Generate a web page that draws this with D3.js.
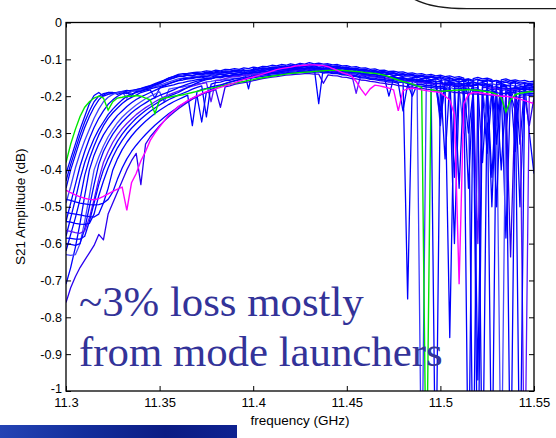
<!DOCTYPE html>
<html><head><meta charset="utf-8">
<script src="https://cdn.jsdelivr.net/npm/d3@7"></script>
<style>body{margin:0;background:#fff}svg{display:block}</style>
</head><body><svg id="c" width="556" height="438"></svg>
<script>
// sampling grid of the network analyser traces (GHz)
const freqs = d3.range(101).map(i => 11.3 + i * 0.0025);

const c01 = [-.41,-.37,-.33,-.29,-.255,-.22,-.198,-.19,-.2,-.195,
-.192,-.19,-.188,-.193,-.186,-.185,-.183,-.178,-.173,-.168,
-.163,-.157,-.151,-.146,-.141,-.139,-.138,-.136,-.135,-.134,
-.131,-.133,-.129,-.131,-.127,-.128,-.125,-.127,-.123,-.125,
-.121,-.123,-.119,-.12,-.116,-.118,-.114,-.116,-.112,-.115,
-.111,-.113,-.109,-.112,-.11,-.113,-.112,-.115,-.114,-.118,
-.117,-.121,-.12,-.124,-.123,-.127,-.126,-.13,-.129,-.133,
-.132,-.135,-.134,-.138,-.137,-.14,-.139,-.143,-.141,-.145,
-.143,-.147,-.145,-.149,-.147,-.151,-1.3,-.152,-.149,-.153,
-.151,-.155,-.28,-.156,-.153,-.158,-.156,-.159,-.157,-.161,
-.159];
const c02 = [-.43,-.385,-.345,-.305,-.27,-.24,-.215,-.2,-.193,-.19,
-.193,-.19,-.187,-.184,-.186,-.182,-.179,-.175,-.171,-.166,
-.161,-.156,-.15,-.147,-.143,-.142,-.14,-.139,-.137,-.138,
-.135,-.136,-.133,-.134,-.131,-.132,-.129,-.13,-.128,-.18,
-.125,-.126,-.123,-.124,-.121,-.122,-.119,-.12,-.117,-.118,
-.115,-.117,-.114,-.116,-.115,-.117,-.116,-.119,-.118,-.122,
-.121,-.125,-.124,-.128,-.127,-.131,-.13,-.134,-.133,-.137,
-.136,-.14,-.139,-.142,-.141,-.145,-.143,-.147,-.145,-.149,
-.147,-.151,-.149,-.42,-.151,-.155,-.153,-.157,-.154,-.158,
-.155,-.159,-.157,-.161,-.158,-.162,-.16,-.164,-.163,-.3,
-.41];
const c03 = [-.45,-.4,-.36,-.32,-.285,-.255,-.23,-.21,-.197,-.19,
-.19,-.195,-.19,-.186,-.184,-.182,-.18,-.176,-.172,-.169,
-.165,-.16,-.155,-.151,-.147,-.146,-.143,-.144,-.141,-.142,
-.139,-.14,-.137,-.138,-.135,-.136,-.133,-.134,-.131,-.132,
-.129,-.13,-.127,-.127,-.124,-.125,-.122,-.123,-.12,-.121,
-.118,-.12,-.117,-.119,-.22,-.12,-.119,-.122,-.121,-.125,
-.124,-.128,-.127,-.131,-.13,-.134,-.133,-.137,-.136,-.14,
-.139,-.143,-.142,-.146,-.144,-.148,-.146,-.15,-.148,-.152,
-.15,-.154,-.152,-.156,-.154,-.158,-.156,-.16,-1.3,-.161,
-.159,-.5,-.161,-.165,-.162,-.166,-.164,-.168,-.165,-.169,
-.167];
const c04 = [-.49,-.445,-.395,-.355,-.32,-.29,-.26,-.235,-.215,-.203,
-.195,-.19,-.188,-.205,-.187,-.185,-.183,-.18,-.177,-.174,
-.17,-.166,-.161,-.157,-.153,-.151,-.149,-.147,-.146,-.144,
-.143,-.141,-.142,-.139,-.14,-.137,-.138,-.135,-.136,-.133,
-.134,-.131,-.131,-.128,-.129,-.126,-.127,-.124,-.125,-.122,
-.123,-.12,-.122,-.119,-.122,-.12,-.123,-.122,-.126,-.125,
-.129,-.128,-.132,-.131,-.135,-.134,-.138,-.137,-.141,-.14,
-.144,-.143,-.147,-.146,-.15,-.149,-1.3,-.152,-.156,-.154,
-.28,-.156,-.16,-.158,-.162,-.2,-.164,-.162,-.166,-.164,
-.168,-.166,-.17,-.168,-.171,-.169,-.173,-.171,-.174,-.172,
-.175];
const c05 = [-.54,-.49,-.44,-.39,-.35,-.315,-.285,-.26,-.24,-.222,
-.21,-.2,-.193,-.19,-.198,-.187,-.186,-.183,-.18,-.177,
-.174,-.17,-.166,-.162,-.158,-.156,-.153,-.152,-.149,-.15,
-.147,-.148,-.145,-.146,-.143,-.144,-.141,-.142,-.139,-.14,
-.137,-.137,-.134,-.135,-.132,-.132,-.129,-.13,-.127,-.128,
-.125,-.126,-.123,-.125,-.124,-.127,-.126,-.129,-.128,-.132,
-.131,-.135,-.134,-.138,-.138,-.142,-.141,-.145,-.145,-.149,
-.148,-.152,-.151,-.155,-.154,-.158,-.156,-.16,-.159,-1.3,
-.162,-.166,-.164,-.168,-.166,-.17,-.168,-.172,-.17,-.38,
-.172,-.176,-.174,-.178,-.585,-.179,-.177,-.181,-.178,-.182,
-.18];
const c06 = [-.58,-.53,-.48,-.425,-.38,-.345,-.315,-.29,-.27,-.25,
-.235,-.222,-.21,-.2,-.194,-.19,-.186,-.181,-.176,-.171,
-.166,-.16,-.154,-.15,-.145,-.146,-.143,-.144,-.141,-.14,
-.138,-.139,-.136,-.137,-.134,-.134,-.131,-.132,-.129,-.13,
-.127,-.127,-.124,-.125,-.122,-.122,-.119,-.12,-.118,-.119,
-.116,-.117,-.114,-.116,-.115,-.118,-.117,-.12,-.119,-.123,
-.122,-.126,-.125,-.129,-.128,-.132,-.131,-.135,-.134,-.138,
-.137,-.141,-.14,-.143,-.142,-.146,-.144,-.148,-.146,-.15,
-.148,-.19,-.15,-.154,-.152,-.156,-.154,-1.3,-.156,-.16,
-.157,-.161,-.158,-.162,-.3,-.164,-.161,-.33,-.163,-.166,
-.164];
const c07 = [-.62,-.575,-.53,-.48,-.415,-.37,-.335,-.305,-.28,-.26,
-.245,-.232,-.22,-.21,-.203,-.197,-.19,-.186,-.183,-.205,
-.178,-.175,-.172,-.169,-.165,-.163,-.16,-.158,-.155,-.154,
-.151,-.152,-.149,-.15,-.147,-.147,-.145,-.145,-.143,-.143,
-.141,-.141,-.138,-.139,-.136,-.136,-.133,-.134,-.131,-.131,
-.129,-.13,-.127,-.129,-.128,-.131,-.13,-.133,-.133,-.137,
-.136,-.14,-.14,-.144,-.143,-.147,-.147,-.151,-.151,-.154,
-.154,-.158,-.157,-.161,-.16,-.164,-.163,-.166,-.166,-.17,
-.26,-.171,-.17,-.174,-.173,-.177,-.45,-.178,-.177,-1.3,
-.179,-.182,-.18,-.184,-.182,-.186,-.184,-.188,-.185,-.189,
-.187];
const c08 = [-.71,-.665,-.61,-.545,-.47,-.4,-.36,-.33,-.305,-.285,
-.268,-.252,-.24,-.228,-.218,-.209,-.202,-.196,-.19,-.184,
-.178,-.172,-.166,-.161,-.157,-.152,-.152,-.149,-.149,-.146,
-.146,-.143,-.143,-.14,-.141,-.138,-.139,-.136,-.137,-.134,
-.134,-.131,-.131,-.128,-.128,-.125,-.126,-.123,-.124,-.121,
-.122,-.119,-.121,-.118,-.121,-.12,-.122,-.122,-.125,-.125,
-.128,-.127,-.131,-.13,-.134,-.134,-.137,-.137,-.141,-.14,
-.144,-.143,-.147,-.75,-.149,-.148,-.152,-.151,-.155,-.153,
-.157,-.155,-.159,-.157,-.161,-.159,-.163,-.161,-.165,-.163,
-.167,-1.3,-.168,-.166,-.17,-.21,-.171,-.5,-.172,-.17,
-.173];
const c09 = [-.63,-.632,-.63,-.6,-.54,-.47,-.4,-.365,-.335,-.31,
-.29,-.272,-.257,-.245,-.234,-.224,-.215,-.207,-.2,-.194,
-.188,-.215,-.181,-.178,-.176,-.175,-.172,-.17,-.166,-.165,
-.161,-.16,-.157,-.157,-.154,-.154,-.151,-.151,-.148,-.148,
-.145,-.145,-.142,-.143,-.139,-.14,-.137,-.138,-.134,-.135,
-.132,-.133,-.131,-.133,-.132,-.135,-.134,-.137,-.137,-.141,
-.14,-.144,-.145,-.149,-.148,-.152,-.152,-.156,-.156,-.159,
-.159,-.163,-.162,-.166,-.166,-.17,-.168,-.172,-.171,-.175,
-.174,-.177,-.176,-.18,-.178,-.3,-.18,-.184,-.182,-.186,
-.27,-.188,-.186,-1.3,-.188,-.192,-.19,-.194,-.191,-.195,
-.193];
const c10 = [-.6,-.602,-.605,-.6,-.56,-.5,-.44,-.385,-.35,-.325,
-.303,-.285,-.27,-.257,-.245,-.235,-.226,-.218,-.21,-.204,
-.198,-.193,-.188,-.183,-.177,-.172,-.167,-.163,-.159,-.157,
-.153,-.152,-.148,-.148,-.145,-.145,-.142,-.142,-.139,-.139,
-.136,-.136,-.133,-.134,-.13,-.131,-.128,-.129,-.126,-.127,
-.124,-.125,-.122,-.124,-.123,-.126,-.125,-.128,-.128,-.131,
-.131,-.135,-.134,-.138,-.138,-.142,-.141,-.145,-.144,-.148,
-.147,-.151,-.15,-.154,-.153,-.156,-.156,-.159,-.158,-.161,
-.16,-.37,-.162,-.165,-.164,-.167,-.2,-.169,-.168,-.171,
-.169,-.172,-.33,-.174,-.173,-1.3,-.175,-.178,-.176,-.179,
-.177];
const c11 = [-.565,-.567,-.57,-.572,-.565,-.53,-.48,-.425,-.38,-.35,
-.325,-.305,-.288,-.274,-.262,-.25,-.24,-.231,-.223,-.215,
-.208,-.202,-.196,-.191,-.186,-.181,-.177,-.173,-.169,-.166,
-.163,-.215,-.157,-.156,-.152,-.149,-.147,-.146,-.143,-.143,
-.14,-.14,-.137,-.137,-.134,-.134,-.132,-.132,-.129,-.13,
-.127,-.128,-.126,-.128,-.127,-.13,-.129,-.132,-.131,-.135,
-.135,-.139,-.192,-.142,-.142,-.146,-.146,-.15,-.149,-.153,
-.153,-.157,-.155,-.159,-.158,-.162,-.161,-.164,-.164,-.167,
-.166,-.169,-.168,-.171,-.17,-.173,-.172,-.175,-.6,-.177,
-.176,-.179,-.178,-.181,-.179,-.183,-.181,-.185,-1.3,-.186,
-.184];
const c12 = [-.54,-.542,-.545,-.547,-.548,-.545,-.52,-.47,-.43,-.395,
-.365,-.34,-.32,-.302,-.287,-.274,-.262,-.251,-.241,-.232,
-.224,-.216,-.209,-.203,-.197,-.192,-.187,-.181,-.176,-.172,
-.256,-.167,-.163,-.162,-.158,-.157,-.153,-.152,-.148,-.148,
-.145,-.145,-.141,-.142,-.138,-.139,-.136,-.137,-.134,-.135,
-.131,-.133,-.13,-.132,-.131,-.134,-.133,-.137,-.136,-.14,
-.14,-.144,-.144,-.148,-.147,-.151,-.151,-.155,-.155,-.158,
-.158,-.162,-.161,-.165,-.2,-.168,-.168,-.171,-.171,-.174,
-.173,-.176,-.855,-.178,-.178,-.181,-.18,-.183,-.182,-.185,
-.184,-.187,-.186,-.4,-.188,-.191,-.189,-1.3,-.19,-.193,
-.192];
const c13 = [-.515,-.518,-.52,-.522,-.525,-.527,-.528,-.52,-.49,-.45,
-.4,-.37,-.345,-.325,-.308,-.293,-.28,-.268,-.257,-.247,
-.238,-.23,-.222,-.215,-.209,-.203,-.197,-.28,-.187,-.182,
-.179,-.175,-.172,-.169,-.166,-.162,-.159,-.156,-.154,-.152,
-.15,-.148,-.146,-.145,-.143,-.142,-.14,-.139,-.137,-.137,
-.135,-.135,-.134,-.135,-.134,-.137,-.136,-.139,-.139,-.142,
-.143,-.146,-.147,-.15,-.151,-.154,-.155,-.158,-.159,-.162,
-.162,-.165,-.24,-.168,-.169,-.172,-.173,-.175,-.176,-.178,
-.178,-.181,-.18,-.6,-.183,-.186,-.3,-.188,-.187,-.19,
-.355,-.191,-.19,-.193,-.192,-.195,-.24,-.197,-.196,-.198,
-.197];
const c14 = [-.48,-.483,-.487,-.49,-.492,-.494,-.495,-.494,-.49,-.48,
-.46,-.425,-.395,-.37,-.35,-.333,-.318,-.304,-.291,-.279,
-.268,-.257,-.247,-.238,-.229,-.221,-.213,-.206,-.199,-.27,
-.188,-.182,-.176,-.171,-.166,-.162,-.158,-.155,-.152,-.149,
-.146,-.144,-.141,-.139,-.137,-.135,-.133,-.131,-.129,-.128,
-.126,-.127,-.125,-.127,-.126,-.129,-.128,-.131,-.13,-.134,
-.134,-.137,-.137,-.14,-.141,-.144,-.145,-.148,-.148,-.2,
-.151,-.154,-.155,-.157,-.157,-.16,-.16,-.162,-.163,-.165,
-.165,-.168,-.167,-.17,-.169,-.172,-.171,-.173,-.97,-.175,
-.175,-.42,-.176,-.178,-.178,-.18,-.179,-.182,-.181,-.183,
-.182];
const c15 = [-.76,-.72,-.69,-.665,-.645,-.625,-.605,-.575,-.59,-.52,
-.49,-.46,-.43,-.4,-.375,-.355,-.44,-.33,-.31,-.295,
-.28,-.267,-.255,-.244,-.234,-.225,-.216,-.208,-.201,-.195,
-.19,-.186,-.182,-.23,-.175,-.172,-.168,-.165,-.163,-.161,
-.158,-.155,-.152,-.15,-.148,-.147,-.145,-.143,-.142,-.141,
-.14,-.139,-.139,-.14,-.14,-.165,-.142,-.144,-.145,-.148,
-.149,-.152,-.153,-.156,-.157,-.16,-.161,-.164,-.165,-.168,
-.168,-.171,-.172,-.175,-.175,-.178,-.179,-.181,-.182,-.184,
-.185,-.187,-.187,-.19,-.19,-.192,-.192,-.194,-.194,-.196,
-.196,-.198,-.198,-.2,-.2,-.636,-.201,-.203,-.202,-.28,
-.203];
const c16 = [-.585,-.586,-.588,-.588,-.58,-.54,-.49,-.44,-.4,-.37,
-.345,-.322,-.303,-.287,-.273,-.26,-.249,-.239,-.23,-.222,
-.214,-.207,-.2,-.195,-.19,-.183,-.176,-.17,-.164,-.159,
-.155,-.153,-.149,-.148,-.145,-.144,-.141,-.141,-.138,-.137,
-.135,-.135,-.132,-.132,-.129,-.129,-.127,-.127,-.125,-.125,
-.123,-.124,-.122,-.123,-.123,-.125,-.124,-.127,-.127,-.13,
-.131,-.133,-.134,-.137,-.138,-.14,-.141,-.144,-.144,-.147,
-.147,-.15,-.15,-.153,-.153,-.155,-.155,-.158,-.158,-.16,
-.24,-.162,-.162,-.164,-.45,-.165,-.165,-.167,-.167,-.169,
-.168,-.17,-.5,-.172,-.171,-.173,-.35,-.174,-.174,-.176,
-.175];
const greenTrace = [-.38,-.33,-.29,-.255,-.23,-.215,-.205,-.2,-.205,-.238,
-.215,-.205,-.203,-.2,-.2,-.198,-.2,-.205,-.21,-.247,
-.21,-.205,-.203,-.2,-.198,-.196,-.193,-.19,-.187,-.184,
-.18,-.178,-.176,-.173,-.17,-.167,-.165,-.162,-.16,-.157,
-.155,-.152,-.15,-.148,-.146,-.144,-.142,-.14,-.138,-.137,
-.136,-.135,-.134,-.133,-.132,-.131,-.13,-.13,-.129,-.13,
-.131,-.132,-.133,-.134,-.136,-.137,-.138,-.14,-.143,-.147,
-.152,-.156,-.16,-.163,-.167,-.172,-.176,-1.3,-.182,-.185,
-.187,-.186,-.185,-.184,-.183,-.183,-.182,-.183,-.184,-.186,
-.188,-.19,-.195,-.205,-.243,-.21,-.196,-.192,-.19,-.188,
-.187];
const magentaTrace = [-.455,-.462,-.468,-.473,-.477,-.48,-.481,-.478,-.472,-.465,
-.458,-.452,-.447,-.51,-.435,-.41,-.375,-.35,-.32,-.3,
-.283,-.267,-.25,-.24,-.228,-.22,-.212,-.205,-.199,-.193,
-.188,-.184,-.18,-.176,-.172,-.168,-.164,-.159,-.155,-.151,
-.148,-.144,-.14,-.136,-.132,-.128,-.125,-.123,-.121,-.118,
-.117,-.116,-.115,-.115,-.116,-.117,-.12,-.125,-.13,-.136,
-.14,-.145,-.16,-.18,-.197,-.18,-.17,-.172,-.175,-.178,
-.183,-.24,-.185,-.18,-.178,-.18,-.183,-.185,-.187,-.188,
-.19,-.2,-.21,-.25,-.71,-.22,-.195,-.19,-.19,-.192,
-.194,-.196,-.198,-.2,-.2,-.202,-.205,-.208,-.212,-.216,
-.22];

const blueTraces = [c01,c02,c03,c04,c05,c06,c07,c08,c09,c10,c11,c12,c13,c14,c15,c16];
const blueColors = ["#0000ff","#0000ff","#0000ff","#3a3aff","#0000ff","#0000ff","#0000ff","#0000ff",
                    "#4848ff","#0000ff","#5a14ff","#0000ff","#0000ff","#0000ff","#2a00f0","#0000ff"];

const xTicks = [11.3, 11.35, 11.4, 11.45, 11.5, 11.55];
const xTickLabels = ["11.3","11.35","11.4","11.45","11.5","11.55"];
const yTicks = [0,-0.1,-0.2,-0.3,-0.4,-0.5,-0.6,-0.7,-0.8,-0.9,-1];
const yTickLabels = ["0","-0.1","-0.2","-0.3","-0.4","-0.5","-0.6","-0.7","-0.8","-0.9","-1"];
const xTitle = "frequency (GHz)";
const yTitle = "S21 Amplitude (dB)";
const noteLines = ["~3% loss mostly", "from mode launchers"];

const svg = d3.select("#c");
const L = 66, R = 534, T = 22.5, B = 391;
const x = d3.scaleLinear().domain([11.3, 11.55]).range([L, R]);
const y = d3.scaleLinear().domain([-1, 0]).range([B, T]);

// callout bubble edge (top right)
svg.append("path").attr("d", "M414,-1 Q432,9 470,8.6 L557,8.6")
  .attr("fill", "none").attr("stroke", "#1a1a1a").attr("stroke-width", 1.4);

// decorative slide bar bottom-left
const defs = svg.append("defs");
const g1 = defs.append("linearGradient").attr("id", "bar");
g1.append("stop").attr("offset", "0").attr("stop-color", "#2444b4");
g1.append("stop").attr("offset", "0.35").attr("stop-color", "#132e9c");
g1.append("stop").attr("offset", "0.7").attr("stop-color", "#0b1c84");
g1.append("stop").attr("offset", "1").attr("stop-color", "#0e2290");
svg.append("rect").attr("x", 0).attr("y", 425).attr("width", 237).attr("height", 13).attr("fill", "url(#bar)");

defs.append("clipPath").attr("id", "plot").append("rect")
  .attr("x", L).attr("y", T).attr("width", R - L).attr("height", B - T);

const line = d3.line().x((d, i) => x(freqs[i])).y(d => y(d));
const plot = svg.append("g").attr("clip-path", "url(#plot)");
blueTraces.forEach((s, k) => {
  plot.append("path").attr("d", line(s)).attr("fill", "none")
    .attr("stroke", blueColors[k]).attr("stroke-width", 1.3).attr("stroke-linejoin", "round");
});
plot.append("path").attr("d", line(greenTrace)).attr("fill", "none")
  .attr("stroke", "#00e600").attr("stroke-width", 1.4);
plot.append("path").attr("d", line(magentaTrace)).attr("fill", "none")
  .attr("stroke", "#ff00ff").attr("stroke-width", 1.4);

const font = "'Liberation Sans', Arial, sans-serif";
const ax = (g, fs) => g.call(s => s.select(".domain").remove())
  .call(s => s.selectAll("line").attr("stroke", "#000"))
  .call(s => s.selectAll("text").attr("font-family", font).attr("font-size", fs).attr("fill", "#000"));

svg.append("g").attr("transform", `translate(0,${B})`)
  .call(d3.axisBottom(x).tickValues(xTicks).tickFormat((d, i) => xTickLabels[i]).tickSize(-5).tickPadding(7))
  .call(ax, 13);
svg.append("g").attr("transform", `translate(0,${T})`)
  .call(d3.axisTop(x).tickValues(xTicks).tickFormat("").tickSize(-5)).call(ax, 13);
const yAxisG = svg.append("g").attr("transform", `translate(${L},0)`)
  .call(d3.axisLeft(y).tickValues(yTicks).tickFormat((d, i) => yTickLabels[i]).tickSize(-5).tickPadding(4))
  .call(ax, 12.6);
// lift the bottom-most label a touch so it clears the first x label
yAxisG.selectAll(".tick text").filter(d => d === -1).attr("y", -3);
svg.append("g").attr("transform", `translate(${R},0)`)
  .call(d3.axisRight(y).tickValues(yTicks).tickFormat("").tickSize(-5)).call(ax, 13);

svg.append("rect").attr("x", L).attr("y", T).attr("width", R - L).attr("height", B - T)
  .attr("fill", "none").attr("stroke", "#000").attr("stroke-width", 1.3);

svg.append("text").attr("x", (L + R) / 2).attr("y", 425).attr("text-anchor", "middle")
  .attr("font-family", font).attr("font-size", 13.5).text(xTitle);
svg.append("text").attr("transform", `translate(25,${(T + B) / 2}) rotate(-90)`).attr("text-anchor", "middle")
  .attr("font-family", font).attr("font-size", 13.5).text(yTitle);

noteLines.forEach((t, i) => {
  svg.append("text").attr("x", 79).attr("y", 316 + i * 50)
    .attr("font-family", "'Liberation Serif', 'Times New Roman', serif").attr("font-size", 42.8)
    .attr("fill", "#333399").text(t);
});
</script></body></html>
